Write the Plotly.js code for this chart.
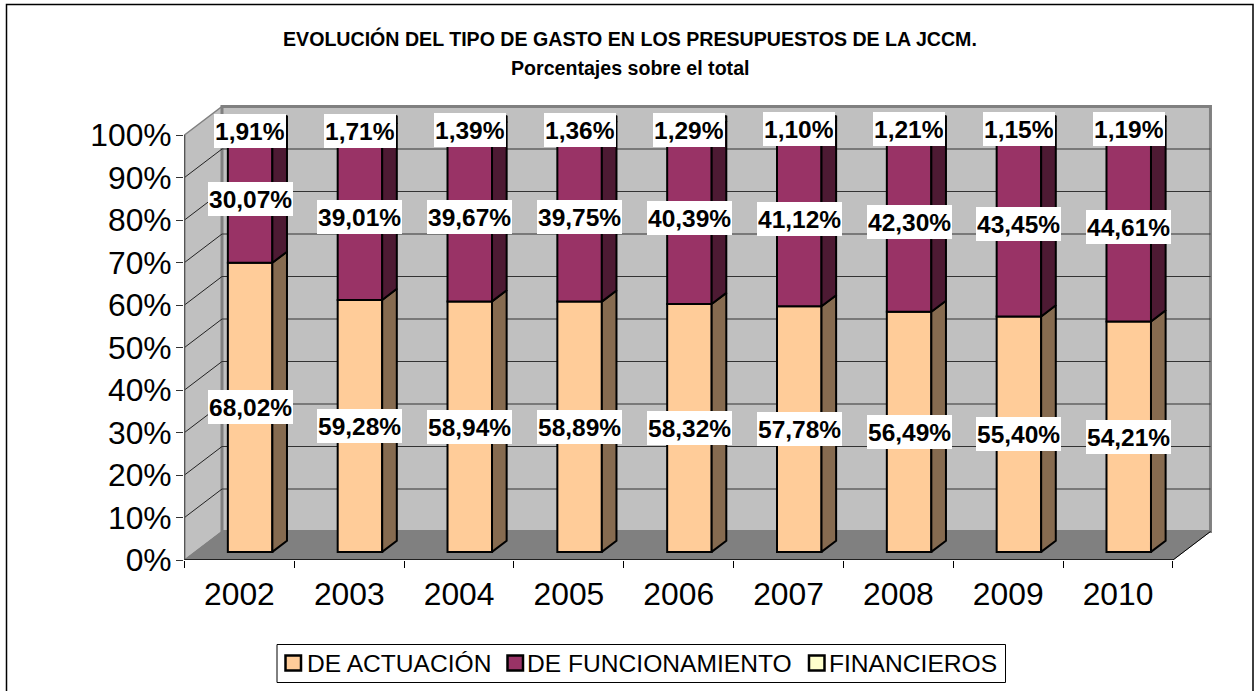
<!DOCTYPE html>
<html><head><meta charset="utf-8">
<script src="https://cdn.plot.ly/plotly-3.0.1.min.js"></script>
<style>html,body{margin:0;padding:0;background:#fff}#c{width:1254px;height:691px}</style>
</head><body><div id="c"></div>
<script>
const years = ['2002','2003','2004','2005','2006','2007','2008','2009','2010'];
const actuacion = [68.02,59.28,58.94,58.89,58.32,57.78,56.49,55.40,54.21];
const funcionamiento = [30.07,39.01,39.67,39.75,40.39,41.12,42.30,43.45,44.61];
const financieros = [1.91,1.71,1.39,1.36,1.29,1.10,1.21,1.15,1.19];
const seriesNames = ['DE ACTUACIÓN','DE FUNCIONAMIENTO','FINANCIEROS'];
const frontColors = ['#FFCC99','#993366','#FFFFCC'];
const sideColors = ['#866B50','#4D1A33','#808066'];
const titleLines = ['EVOLUCIÓN DEL TIPO DE GASTO EN LOS PRESUPUESTOS DE LA JCCM.','Porcentajes sobre el total'];

const W=1254,H=691;
const m={l:184,r:42,t:105,b:131};
const pxCat=109.83, pxPct=4.25, x0px=184.5;
const n=years.length;
// projected 3D helpers: depth is a 0..1 fraction of the chart's depth
const DX=37.5/pxCat, DY=28.5/pxPct;
const P=(x,y,d)=>[x+d*DX,y+d*DY];
const FONT='"Liberation Sans", Arial, sans-serif';
const pw=W-m.l-m.r, ph=H-m.t-m.b;
const xRange=[(m.l-x0px)/pxCat,(W-m.r-x0px)/pxCat];
const yRange=[0,ph/pxPct];
const px=v=>(v-m.l)/pw, py=v=>1-(v-m.t)/ph;

const pathOf=pts=>'M'+pts.map(p=>p[0]+','+p[1]).join('L')+'Z';
const shapes=[];
const dataShape=(pts,fill,lc,lw)=>shapes.push({type:'path',layer:'below',xref:'x',yref:'y',path:pathOf(pts),fillcolor:fill,line:{color:lc,width:lw}});
const dataLine=(a,b,c,w)=>shapes.push({type:'line',layer:'below',xref:'x',yref:'y',x0:a[0],y0:a[1],x1:b[0],y1:b[1],line:{color:c,width:w}});
const paperRect=(a,b,c,d,fill,lc,lw)=>shapes.push({type:'rect',layer:'below',xref:'paper',yref:'paper',x0:px(a),y0:py(b),x1:px(c),y1:py(d),fillcolor:fill,line:{color:lc,width:lw}});

// outer frame
paperRect(6.5,4.5,1253,720,'#FFFFFF','#000000',1.5);
// walls and floor
dataShape([P(0,0,0),P(0,100,0),P(0,100,1),P(0,0,1)],'#C0C0C0','#808080',1.5);
dataShape([P(0,0,1),P(0,100,1),P(n,100,1),P(n,0,1)],'#C0C0C0','#808080',3);
for(let v=10;v<100;v+=10){
  dataLine(P(0,v,0),P(0,v,1),'#222222',1);
  dataLine(P(0,v,1),P(n,v,1),'#333333',1);
}
dataShape([P(0,0,0),P(n,0,0),P(n,0,1),P(0,0,1)],'#808080','#808080',1);
// axis lines
dataLine(P(0,0,0),P(0,100,0),'#555555',1.5);

const barOffset=0.285, barDepth=0.39, barWidth=44.5/pxCat, barShift=0.5;
const xc=years.map((_,i)=>i+barShift+barOffset*DX);
const base=barOffset*DY;
const vals=[actuacion,funcionamiento,financieros];
const starts=[];
let acc=years.map(()=>0);
vals.forEach(v=>{starts.push(acc.slice());acc=acc.map((a,i)=>a+v[i]);});

const traces=[];
vals.forEach((v,s)=>{
  traces.push({type:'bar',name:seriesNames[s],x:xc,y:v,base:starts[s].map(b=>b+base),width:barWidth,
    marker:{color:frontColors[s],line:{color:'#000000',width:2}},showlegend:false,hoverinfo:'skip'});
});
vals.forEach((v,s)=>{
  const xs=[],ys=[];
  v.forEach((val,i)=>{
    const R=xc[i]+barWidth/2, lo=starts[s][i]+base, hi=lo+val;
    [[R,lo,0],[R+barDepth*DX,lo+barDepth*DY,0],[R+barDepth*DX,hi+barDepth*DY,0],[R,hi,0],[R,lo,0]].forEach(p=>{xs.push(p[0]);ys.push(p[1]);});
    xs.push(null);ys.push(null);
  });
  traces.push({type:'scatter',mode:'lines',x:xs,y:ys,fill:'toself',fillcolor:sideColors[s],line:{color:'#000000',width:2},showlegend:false,hoverinfo:'skip',cliponaxis:false});
});
// x-axis line, stopping at the front edge of the floor
traces.push({type:'scatter',mode:'lines',x:[0,n],y:[0,0],line:{color:'#000000',width:1.5},showlegend:false,hoverinfo:'skip',cliponaxis:false});
// right floor edge
traces.push({type:'scatter',mode:'lines',x:[n,n+DX],y:[0,DY],line:{color:'#000000',width:1},showlegend:false,hoverinfo:'skip',cliponaxis:false});

const annotations=[];
vals.forEach((v,s)=>v.forEach((val,i)=>{
  annotations.push({xref:'x',yref:'y',x:xc[i],y:starts[s][i]+base+val/2,text:'<b>'+val.toFixed(2).replace('.',',')+'%</b>',
    showarrow:false,xanchor:'center',yanchor:'middle',bgcolor:'#FFFFFF',borderpad:1,borderwidth:0,height:32,
    font:{family:FONT,size:24.5,color:'#000000'}});
}));
// title
[[38,titleLines[0]],[68,titleLines[1]]].forEach(t=>annotations.push({xref:'paper',yref:'paper',x:px(630),y:py(t[0]),text:'<b>'+t[1]+'</b>',showarrow:false,xanchor:'center',yanchor:'middle',font:{family:FONT,size:19.6,color:'#000000'}}));
// legend
paperRect(277,644.5,1005.5,682.5,'#FFFFFF','#000000',1);
const legendSwatchX=[285.5,507.5,809], legendTextX=[306,526,827.5];
seriesNames.forEach((nm,s)=>{
  paperRect(legendSwatchX[s],655.5,legendSwatchX[s]+15.5,670.5,frontColors[s],'#000000',2.5);
  annotations.push({xref:'paper',yref:'paper',x:px(legendTextX[s]),y:py(663.5),text:nm,showarrow:false,xanchor:'left',yanchor:'middle',borderpad:0,font:{family:FONT,size:24.6,color:'#000000'}});
});

const layout={width:W,height:H,margin:{l:m.l,r:m.r,t:m.t,b:m.b,pad:0},paper_bgcolor:'#FFFFFF',plot_bgcolor:'rgba(0,0,0,0)',
  barmode:'overlay',showlegend:false,shapes,annotations,
  font:{family:FONT,color:'#000000'},
  xaxis:{range:xRange,tickmode:'array',tickvals:years.map((_,i)=>i+0.5),ticktext:years,ticks:'',showgrid:false,zeroline:false,showline:false,
    tickfont:{family:FONT,size:31.8},ticklabelstandoff:12,
    minor:{tickmode:'array',tickvals:Array.from({length:n+1},(_,i)=>i),ticks:'outside',ticklen:7,tickwidth:1,tickcolor:'#000000',showgrid:false}},
  yaxis:{range:yRange,tickmode:'array',tickvals:[0,10,20,30,40,50,60,70,80,90,100],ticktext:['0%','10%','20%','30%','40%','50%','60%','70%','80%','90%','100%'],
    ticks:'outside',ticklen:7,tickwidth:1,tickcolor:'#333333',showgrid:false,zeroline:false,showline:false,ticklabelstandoff:-2,tickfont:{family:FONT,size:31.8}}
};
Plotly.newPlot('c',traces,layout,{displayModeBar:false,responsive:false});
</script></body></html>
